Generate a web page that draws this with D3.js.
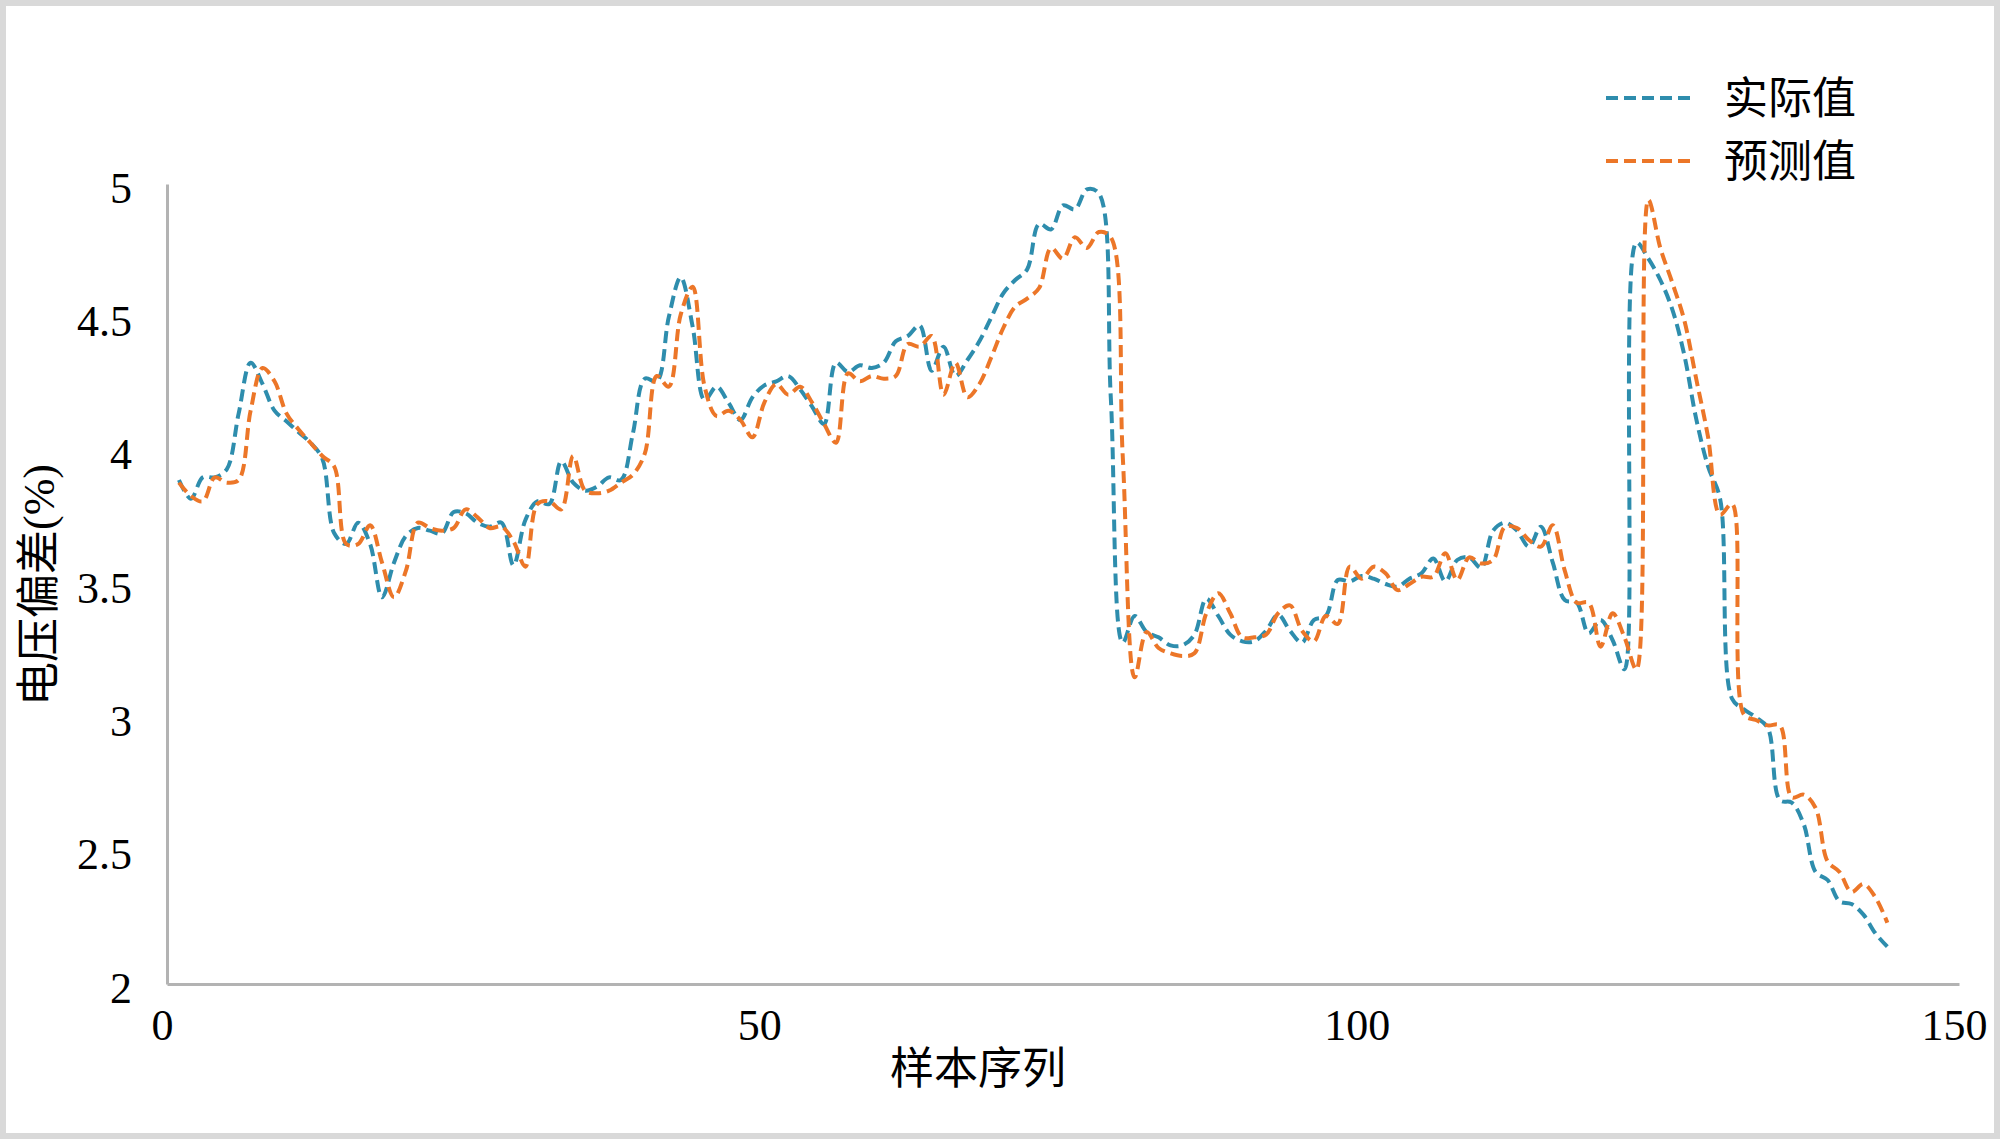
<!DOCTYPE html>
<html>
<head>
<meta charset="utf-8">
<script src="https://cdn.jsdelivr.net/npm/d3@7"></script>
<style>
  html, body { margin: 0; padding: 0; background: #ffffff; }
  svg { display: block; }
</style>
</head>
<body>
<svg id="chart" width="2000" height="1139"></svg>
<script>
// ---- data ----
const seriesNames = ["实际值", "预测值"];
const xTicks = [0, 50, 100, 150];
const yTicks = [2, 2.5, 3, 3.5, 4, 4.5, 5];
const xTitle = "样本序列";
const yTitle = "电压偏差(%)";

const actual = [
  3.89, 3.82, 3.90, 3.90, 3.93, 4.14, 4.33, 4.25, 4.15, 4.11,
  4.07, 4.03, 3.97, 3.69, 3.65, 3.73, 3.65, 3.45, 3.58, 3.68,
  3.71, 3.70, 3.69, 3.77, 3.765, 3.73, 3.715, 3.73, 3.57, 3.74,
  3.81, 3.80, 3.96, 3.88, 3.85, 3.865, 3.90, 3.89, 4.065, 4.27,
  4.26, 4.50, 4.65, 4.465, 4.19, 4.24, 4.18, 4.115, 4.20, 4.245,
  4.26, 4.28, 4.23, 4.165, 4.10, 4.33, 4.295, 4.32, 4.31, 4.33,
  4.41, 4.43, 4.47, 4.30, 4.39, 4.28, 4.34, 4.41, 4.50, 4.59,
  4.64, 4.68, 4.85, 4.83, 4.92, 4.905, 4.98, 4.965, 4.20, 3.28,
  3.38, 3.32, 3.30, 3.27, 3.27, 3.31, 3.445, 3.38, 3.31, 3.285,
  3.285, 3.325, 3.385, 3.325, 3.28, 3.365, 3.38, 3.515, 3.51, 3.53,
  3.52, 3.50, 3.49, 3.52, 3.54, 3.596, 3.51, 3.59, 3.60, 3.56,
  3.70, 3.73, 3.70, 3.64, 3.715, 3.58, 3.44, 3.43, 3.315, 3.365,
  3.29, 3.18, 4.78, 4.72, 4.64, 4.53, 4.36, 4.12, 3.94, 3.82,
  3.07, 3.03, 3.00, 2.96, 2.69, 2.68, 2.60, 2.42, 2.39, 2.31,
  2.30, 2.26, 2.19, 2.14
];

const predicted = [
  3.88, 3.83, 3.81, 3.90, 3.88, 3.89, 4.15, 4.31, 4.26, 4.14,
  4.08, 4.03, 3.98, 3.94, 3.65, 3.65, 3.72, 3.58, 3.45, 3.55,
  3.73, 3.71, 3.70, 3.71, 3.78, 3.75, 3.71, 3.715, 3.66, 3.565,
  3.80, 3.81, 3.78, 3.98, 3.85, 3.84, 3.85, 3.88, 3.91, 3.99,
  4.28, 4.24, 4.51, 4.615, 4.24, 4.13, 4.15, 4.115, 4.05, 4.18,
  4.25, 4.21, 4.24, 4.18, 4.10, 4.03, 4.29, 4.26, 4.28, 4.27,
  4.28, 4.40, 4.39, 4.43, 4.21, 4.33, 4.20, 4.25, 4.35, 4.46,
  4.54, 4.57, 4.61, 4.76, 4.72, 4.80, 4.76, 4.82, 4.80, 3.98,
  3.15, 3.32, 3.26, 3.24, 3.23, 3.24, 3.39, 3.465, 3.39, 3.30,
  3.30, 3.31, 3.39, 3.42, 3.325, 3.285, 3.38, 3.35, 3.565, 3.52,
  3.565, 3.54, 3.477, 3.50, 3.527, 3.527, 3.615, 3.515, 3.60, 3.577,
  3.59, 3.715, 3.71, 3.665, 3.64, 3.72, 3.55, 3.43, 3.43, 3.265,
  3.39, 3.30, 3.18, 4.94, 4.76, 4.63, 4.49, 4.27, 4.05, 3.76,
  3.80, 3.01, 2.99, 2.97, 2.97, 2.70, 2.71, 2.66, 2.46, 2.42,
  2.345, 2.375, 2.325, 2.23
];

const colors = ["#2e8dad", "#ec7628"];

// ---- layout ----
const svg = d3.select("#chart");
const W = 2000, H = 1139;
const fontStack = "'Liberation Serif', 'Times New Roman', 'Noto Sans CJK SC', serif";

svg.append("rect").attr("x", 0).attr("y", 0).attr("width", W).attr("height", H)
  .attr("fill", "#ffffff");
svg.append("rect").attr("x", 3).attr("y", 3).attr("width", W - 6).attr("height", H - 6)
  .attr("fill", "none").attr("stroke", "#d9d9d9").attr("stroke-width", 6);

const x = d3.scaleLinear().domain([0, 150]).range([167, 1959]);
const y = d3.scaleLinear().domain([2, 5]).range([984, 184]);

// axes lines (no tick marks)
const xAxis = d3.axisBottom(x).tickValues(xTicks).tickSize(0).tickPadding(0).tickFormat(d3.format("d"));
const yAxis = d3.axisLeft(y).tickValues(yTicks).tickSize(0).tickPadding(0).tickFormat(d => String(d));

const gx = svg.append("g").attr("transform", `translate(0,${y(2)})`).call(xAxis);
gx.select(".domain").attr("stroke", "#b3b3b3").attr("stroke-width", 3);
gx.selectAll(".tick text")
  .attr("font-family", fontStack).attr("font-size", 44).attr("fill", "#000")
  .attr("dy", null).attr("y", 56).attr("x", -5);

const gy = svg.append("g").attr("transform", `translate(${x(0)},0)`).call(yAxis);
gy.select(".domain").attr("stroke", "#b3b3b3").attr("stroke-width", 3);
gy.selectAll(".tick text")
  .attr("font-family", fontStack).attr("font-size", 44).attr("fill", "#000")
  .attr("dy", null).attr("x", -35).attr("y", 18);

// axis titles
svg.append("text").attr("x", 978).attr("y", 1084)
  .attr("text-anchor", "middle").attr("font-family", fontStack).attr("font-size", 44)
  .attr("fill", "#000").text(xTitle);

svg.append("text").attr("transform", "translate(54,585) rotate(-90)")
  .attr("text-anchor", "middle").attr("font-family", fontStack).attr("font-size", 44)
  .attr("fill", "#000").text(yTitle);

// lines
const line = d3.line()
  .x((d, i) => x(i + 1))
  .y(d => y(d))
  .curve(d3.curveCatmullRom.alpha(0.5));

[actual, predicted].forEach((data, k) => {
  svg.append("path").datum(data)
    .attr("d", line)
    .attr("fill", "none")
    .attr("stroke", colors[k])
    .attr("stroke-width", 4)
    .attr("stroke-dasharray", "12,6")
    .attr("stroke-linejoin", "round");
});

// legend
const legendY = [98, 161];
seriesNames.forEach((name, k) => {
  svg.append("line")
    .attr("x1", 1606).attr("x2", 1694)
    .attr("y1", legendY[k]).attr("y2", legendY[k])
    .attr("stroke", colors[k]).attr("stroke-width", 4)
    .attr("stroke-dasharray", "12,6");
  svg.append("text").attr("x", 1724).attr("y", legendY[k] + 16)
    .attr("font-family", fontStack).attr("font-size", 44).attr("fill", "#000")
    .text(name);
});
</script>
</body>
</html>
